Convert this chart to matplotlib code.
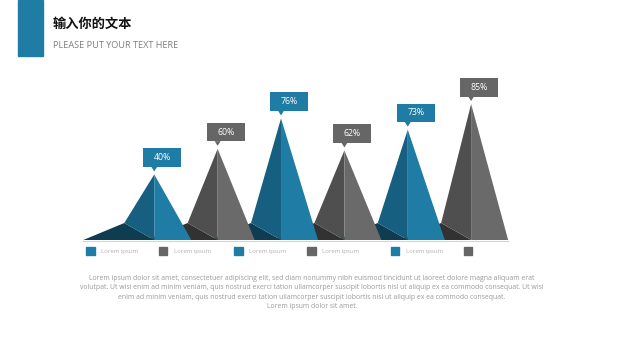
import matplotlib
matplotlib.use("Agg")
import matplotlib.pyplot as plt
from matplotlib.patches import Polygon, Rectangle

# ------------------------------------------------------------------
# Data
# ------------------------------------------------------------------
labels = ["40%", "60%", "76%", "62%", "73%", "85%"]
# apex heights as drawn in the picture (percent units)
heights = [41, 57, 76, 56, 69, 85]
series_kind = ["blue", "gray", "blue", "gray", "blue", "gray"]
legend_labels = ["Lorem ipsum", "Lorem ipsum", "Lorem ipsum",
                 "Lorem ipsum", "Lorem ipsum", ""]

title = "输入你的文本"
subtitle = "PLEASE PUT YOUR TEXT HERE"
body_lines = [
    "Lorem ipsum dolor sit amet, consectetuer adipiscing elit, sed diam nonummy nibh euismod tincidunt ut laoreet dolore magna aliquam erat",
    "volutpat. Ut wisi enim ad minim veniam, quis nostrud exerci tation ullamcorper suscipit lobortis nisl ut aliquip ex ea commodo consequat. Ut wisi",
    "enim ad minim veniam, quis nostrud exerci tation ullamcorper suscipit lobortis nisl ut aliquip ex ea commodo consequat.",
    "Lorem ipsum dolor sit amet.",
]

# ------------------------------------------------------------------
# Styles
# ------------------------------------------------------------------
colors = {
    "blue": {"front": "#1f7ca5", "side": "#165f80", "shadow": "#0e3c51", "box": "#1f7ca5"},
    "gray": {"front": "#6a6a6a", "side": "#4f4f4f", "shadow": "#323232", "box": "#666666"},
}
W, H = 635, 358
plt.rcParams["font.family"] = ["Open Sans", "DejaVu Sans"]


def fx(px):
    return px / W


def fy(py):
    return 1 - py / H


fig = plt.figure(figsize=(W / 100, H / 100), dpi=100)
fig.patch.set_facecolor("white")

# header
fig.patches.append(Rectangle((fx(18), fy(56)), fx(43) - fx(18), fy(0) - fy(56),
                             transform=fig.transFigure, color="#1f7ca5"))
fig.text(fx(53), fy(24), title, fontsize=9.5, fontweight="bold", color="#111111",
         family=["Noto Sans CJK SC", "DejaVu Sans"], va="center", ha="left")
fig.text(fx(53), fy(46), subtitle, fontsize=6.6, color="#7f7f7f",
         va="center", ha="left")

# ------------------------------------------------------------------
# Pyramid axes (x = index, y = percent)
# ------------------------------------------------------------------
ax = fig.add_axes([fx(70), fy(240), fx(525) - fx(70), fy(60) - fy(240)])
ax.set_xlim(-1.33, 5.85)
ax.set_ylim(0, 112.5)
ax.axis("off")

px_x = (525 - 70) / (5.85 + 1.33)   # pixels per x unit
px_y = 180 / 112.5                  # pixels per y unit

half_w = 37 / px_x
back_dx = -30 / px_x
back_dy = 17 / px_y
shadow_dx = -71 / px_x

# shadows first, then faces
for i, h in enumerate(heights):
    c = colors[series_kind[i]]
    ax.add_patch(Polygon([(i + shadow_dx, 0), (i + back_dx, back_dy), (i, 0)],
                         closed=True, color=c["shadow"], lw=0))

for i, h in enumerate(heights):
    c = colors[series_kind[i]]
    ax.add_patch(Polygon([(i + back_dx, back_dy), (i, h), (i, 0)],
                         closed=True, color=c["side"], lw=0))
    ax.add_patch(Polygon([(i, h), (i + half_w, 0), (i, 0)],
                         closed=True, color=c["front"], lw=0))

    # callout box
    bl, br = i - 11 / px_x, i + 27 / px_x
    bb = h + 7.5 / px_y
    bt = bb + 18.5 / px_y
    ax.add_patch(Rectangle((bl, bb), br - bl, bt - bb, color=c["box"], lw=0))
    ax.add_patch(Polygon([(i - 3 / px_x, bb + 0.1), (i + 3 / px_x, bb + 0.1),
                          (i, h + 3 / px_y)], closed=True, color=c["box"], lw=0))
    ax.text((bl + br) / 2, (bb + bt) / 2, labels[i], color="white",
            fontsize=6.3, ha="center", va="center")

# baseline
ax.plot([shadow_dx, len(heights) - 1 + half_w], [-0.8, -0.8], color="#d4d4d4",
        lw=0.8, clip_on=False)

# ------------------------------------------------------------------
# Legend
# ------------------------------------------------------------------
legend_x = [86, 158.5, 234, 307, 391, 463.5]
for lx, lab, kind in zip(legend_x, legend_labels, series_kind):
    fig.patches.append(Rectangle((fx(lx), fy(255)), fx(8.5), fy(246.5) - fy(255),
                                 transform=fig.transFigure,
                                 color=colors[kind]["box"]))
    if lab:
        fig.text(fx(lx + 15), fy(251), lab, fontsize=4.3, color="#b0b0b0",
                 va="center", ha="left")

# ------------------------------------------------------------------
# Body text
# ------------------------------------------------------------------
for k, line in enumerate(body_lines):
    fig.text(fx(312), fy(278.5 + 9.4 * k), line, fontsize=4.95, color="#9a9a9a",
             ha="center", va="center")

plt.savefig("out.png", dpi=100)
plt.close()
